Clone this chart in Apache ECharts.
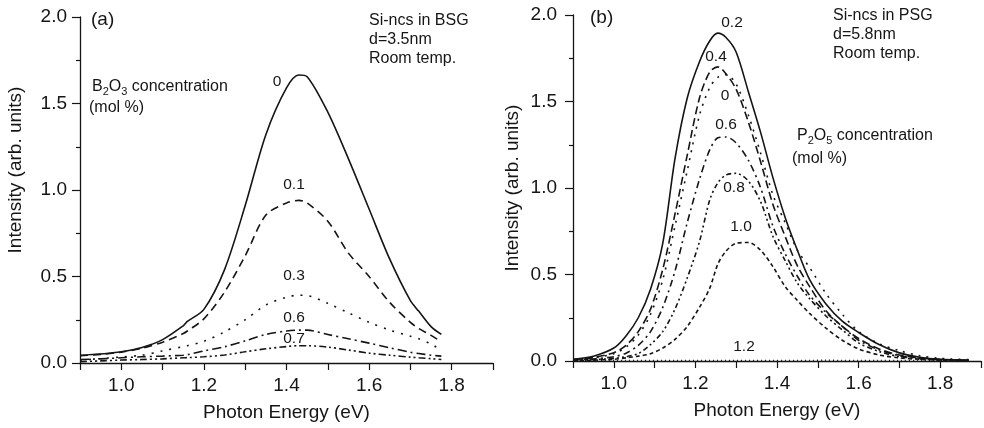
<!DOCTYPE html>
<html><head><meta charset="utf-8">
<script src="https://cdn.jsdelivr.net/npm/echarts@6/dist/echarts.min.js"></script>
<style>html,body{margin:0;padding:0;background:#fff}#c{width:984px;height:428px}</style>
</head><body><div id="c"></div>
<script>
// ---------- Data: panel (a) Si-ncs in BSG ----------
const bsgEnergy = [0.90,0.95,1.00,1.05,1.10,1.15,1.16,1.20,1.25,1.30,1.35,1.40,1.43,1.45,1.50,1.55,1.60,1.65,1.70,1.72,1.75,1.775];
const bsg_0   = [0.045,0.052,0.065,0.090,0.135,0.215,0.240,0.310,0.540,0.910,1.320,1.590,1.665,1.655,1.450,1.180,0.890,0.600,0.360,0.300,0.210,0.165];
const bsg_0_1 = [0.042,0.050,0.063,0.085,0.120,0.170,0.185,0.255,0.410,0.620,0.855,0.925,0.940,0.925,0.820,0.635,0.500,0.350,0.235,0.200,0.160,0.123];
const bsg_0_3 = [0.017,0.025,0.035,0.045,0.070,0.095,0.100,0.125,0.180,0.250,0.335,0.380,0.392,0.390,0.345,0.290,0.235,0.190,0.155,0.140,0.110,0.072];
const bsg_0_6 = [0.020,0.024,0.030,0.036,0.040,0.045,0.048,0.070,0.094,0.128,0.165,0.185,0.190,0.190,0.165,0.140,0.115,0.088,0.062,0.055,0.045,0.040];
const bsg_0_7 = [0.008,0.012,0.017,0.020,0.024,0.030,0.031,0.036,0.046,0.065,0.082,0.095,0.100,0.100,0.092,0.075,0.057,0.045,0.034,0.030,0.025,0.020];

// ---------- Data: panel (b) Si-ncs in PSG ----------
const psgEnergy = [0.90,0.95,1.00,1.03,1.06,1.09,1.12,1.15,1.18,1.21,1.235,1.255,1.275,1.30,1.33,1.36,1.39,1.42,1.45,1.48,1.52,1.56,1.60,1.65,1.70,1.75,1.80,1.87];
const psg_0_2 = [0.010,0.028,0.075,0.145,0.250,0.415,0.680,1.170,1.520,1.730,1.850,1.895,1.870,1.785,1.555,1.320,1.060,0.830,0.640,0.470,0.330,0.230,0.165,0.095,0.047,0.022,0.010,0.005];
const psg_0_4 = [0.008,0.020,0.048,0.090,0.170,0.300,0.530,0.850,1.190,1.520,1.670,1.700,1.660,1.570,1.380,1.150,0.905,0.720,0.550,0.430,0.290,0.200,0.130,0.070,0.035,0.018,0.008,0.004];
const psg_0   = [0.008,0.018,0.042,0.080,0.150,0.270,0.470,0.780,1.100,1.420,1.580,1.640,1.655,1.600,1.420,1.200,0.960,0.800,0.640,0.540,0.390,0.270,0.170,0.100,0.060,0.030,0.015,0.008];
const psg_0_6 = [0.006,0.012,0.025,0.045,0.090,0.170,0.310,0.520,0.800,1.050,1.220,1.290,1.295,1.260,1.160,1.000,0.780,0.620,0.490,0.380,0.280,0.200,0.120,0.065,0.030,0.015,0.008,0.004];
const psg_0_8 = [0.004,0.008,0.015,0.025,0.043,0.095,0.170,0.300,0.480,0.690,0.930,1.030,1.075,1.085,1.040,0.920,0.720,0.580,0.450,0.360,0.260,0.180,0.105,0.055,0.025,0.012,0.006,0.003];
const psg_1_0 = [0.002,0.005,0.010,0.018,0.028,0.042,0.075,0.125,0.200,0.310,0.420,0.560,0.635,0.680,0.685,0.640,0.545,0.430,0.350,0.275,0.190,0.120,0.070,0.035,0.018,0.010,0.005,0.003];
const psg_1_2 = [0.004,0.003,0.003,0.003,0.003,0.003,0.003,0.003,0.003,0.003,0.003,0.003,0.003,0.003,0.003,0.003,0.003,0.003,0.003,0.003,0.004,0.003,0.003,0.003,0.003,0.003,0.003,0.003];

// ---------- Tick labels ----------
const xTickLabels = ['1.0','1.2','1.4','1.6','1.8'];
const yTickLabels = ['0.0','0.5','1.0','1.5','2.0'];

const FONT = 'Liberation Sans, Arial, Helvetica, sans-serif';
const INK = '#151515';

function pairs(xs, ys){ return xs.map((x,i)=>[x, ys[i]]); }
function line(name, xs, ys, dash, idx){
  return {name, type:'line', xAxisIndex:idx, yAxisIndex:idx, data:pairs(xs,ys),
    showSymbol:false, symbol:'none', smooth:0.3, silent:true, animation:false,
    lineStyle:{color:INK, width:1.6, type:dash}};
}

function xAxis(idx){
  return {gridIndex:idx, type:'value', min:0.9, max:1.9, interval:0.1,
    axisLine:{show:true, onZero:false, lineStyle:{color:INK, width:1.3}},
    axisTick:{show:true, inside:false, length:7, lineStyle:{color:INK, width:1.2}},
    splitLine:{show:false},
    axisLabel:{margin:13, fontSize:19, fontFamily:FONT, color:INK,
      formatter:v=>{const s=v.toFixed(1); return xTickLabels.includes(s)?s:'';}},
    name:'Photon Energy (eV)', nameLocation:'middle', nameGap:40,
    nameTextStyle:{fontSize:19, fontFamily:FONT, color:INK}};
}
function yAxis(idx, margin, gap, pad){
  return {gridIndex:idx, type:'value', min:0, max:2, interval:0.5,
    axisLine:{show:true, lineStyle:{color:INK, width:1.3}},
    axisTick:{show:true, inside:false, length:8, lineStyle:{color:INK, width:1.2}},
    minorTick:{show:true, splitNumber:2, length:4, lineStyle:{color:INK, width:1.2}},
    splitLine:{show:false}, minorSplitLine:{show:false},
    axisLabel:{margin:margin, fontSize:19, fontFamily:FONT, color:INK,
      formatter:v=>{const s=v.toFixed(1); return yTickLabels.includes(s)?s:'';}},
    name:'Intensity (arb. units)', nameLocation:'middle', nameGap:gap,
    nameTextStyle:{fontSize:19, fontFamily:FONT, color:INK, padding:pad}};
}

function txt(x, y, s, size, align){
  return {type:'text', x:x, y:y, silent:true,
    style:{text:s, fontSize:size, fontFamily:FONT, fill:INK,
      align:align||'left', verticalAlign:'middle', textAlign:align||'left', textVerticalAlign:'middle'}};
}
function rich(x, y, parts){
  return {type:'text', x:x, y:y, silent:true,
    style:{text:parts, fontFamily:FONT, fill:INK, align:'left', verticalAlign:'middle',
      textAlign:'left', textVerticalAlign:'middle',
      rich:{n:{fontSize:16, fontFamily:FONT, color:INK, lineHeight:18, verticalAlign:'top'},
            s:{fontSize:11, fontFamily:FONT, color:INK, lineHeight:9, verticalAlign:'bottom'}}}};
}

const chart = echarts.init(document.getElementById('c'), null, {renderer:'canvas'});
chart.setOption({
  backgroundColor:'#ffffff',
  animation:false,
  grid:[{left:80, top:17, width:413, height:346},
        {left:573, top:15, width:415, height:346}],
  xAxis:[xAxis(0), xAxis(1)],
  yAxis:[yAxis(0, 13, 55, [0,0,0,40]), yAxis(1, 16, 51, 0)],
  series:[
    line('0', bsgEnergy, bsg_0, 'solid', 0),
    line('0.1', bsgEnergy, bsg_0_1, [8,5], 0),
    line('0.3', bsgEnergy, bsg_0_3, [2,7], 0),
    line('0.6', bsgEnergy, bsg_0_6, [9,4,2,4], 0),
    line('0.7', bsgEnergy, bsg_0_7, [7,3,2,3,2,3], 0),
    line('0.2', psgEnergy, psg_0_2, 'solid', 1),
    line('0.4', psgEnergy, psg_0_4, [8,4], 1),
    line('0', psgEnergy, psg_0, [2,6], 1),
    line('0.6', psgEnergy, psg_0_6, [7,4,2,4], 1),
    line('0.8', psgEnergy, psg_0_8, [5,3,2,3,2,3], 1),
    line('1.0', psgEnergy, psg_1_0, [4,3], 1),
    line('1.2', psgEnergy, psg_1_2, [1,3], 1)
  ],
  graphic:[
    txt(91, 20, '(a)', 19),
    txt(369, 21, 'Si-ncs in BSG', 16),
    txt(369, 40, 'd=3.5nm', 16),
    txt(369, 59, 'Room temp.', 16),
    rich(92, 88, '{n|B}{s|2}{n|O}{s|3}{n| concentration}'),
    txt(89, 108, '(mol %)', 16),
    txt(277, 82, '0', 15.5, 'center'),
    txt(294, 185, '0.1', 15.5, 'center'),
    txt(294, 276, '0.3', 15.5, 'center'),
    txt(294, 318, '0.6', 15.5, 'center'),
    txt(294, 339, '0.7', 15.5, 'center'),
    txt(590, 18, '(b)', 19),
    txt(833, 16, 'Si-ncs in PSG', 16),
    txt(833, 35, 'd=5.8nm', 16),
    txt(833, 54, 'Room temp.', 16),
    rich(797, 137, '{n|P}{s|2}{n|O}{s|5}{n| concentration}'),
    txt(792, 159, '(mol %)', 16),
    txt(732, 23, '0.2', 15.5, 'center'),
    txt(716, 57, '0.4', 15.5, 'center'),
    txt(725, 96, '0', 15.5, 'center'),
    txt(726, 125, '0.6', 15.5, 'center'),
    txt(734, 188, '0.8', 15.5, 'center'),
    txt(741, 227, '1.0', 15.5, 'center'),
    txt(744, 347, '1.2', 15.5, 'center')
  ]
});
</script></body></html>
